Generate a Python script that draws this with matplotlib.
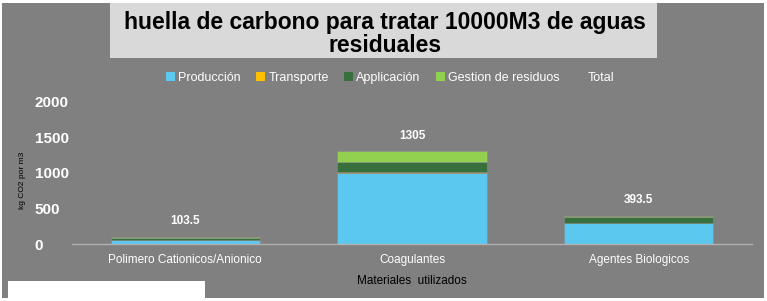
import numpy as np
import matplotlib.pyplot as plt
from matplotlib.patches import Rectangle, Patch

plt.rcParams['font.family'] = ['Liberation Sans', 'DejaVu Sans']

categories = ['Polimero Cationicos/Anionico', 'Coagulantes', 'Agentes Biologicos']
produccion = [50, 1000, 300]
transporte = [3.5, 20, 0]
aplicacion = [30, 130, 85]
gestion = [20, 155, 8.5]
totals = ['103.5', '1305', '393.5']

series = [('Producción', produccion, '#5bc8f0'),
          ('Transporte', transporte, '#ffc000'),
          ('Applicación', aplicacion, '#38703d'),
          ('Gestion de residuos', gestion, '#92d050')]

fig = plt.figure(figsize=(7.67, 3.01), dpi=100)
fig.patch.set_facecolor('white')

# gray chart area, title box and the white patch bottom-left
fig.add_artist(Rectangle((2 / 767, 3 / 301), 762 / 767, 295 / 301, transform=fig.transFigure,
                         facecolor='#808080', edgecolor='none', zorder=0))
fig.add_artist(Rectangle((110 / 767, 1 - 58 / 301), 547 / 767, 55 / 301, transform=fig.transFigure,
                         facecolor='#d9d9d9', edgecolor='none', zorder=1))
fig.add_artist(Rectangle((8 / 767, 0), 197 / 767, 20 / 301, transform=fig.transFigure,
                         facecolor='white', edgecolor='none', zorder=1))

fig.text(385 / 767, 1 - 34 / 301, 'huella de carbono para tratar 10000M3 de aguas\nresiduales',
         ha='center', va='center', fontsize=16.5, fontweight='bold', color='black',
         linespacing=1.02, zorder=2)

ax = fig.add_axes([72 / 767, 57 / 301, 680 / 767, 142 / 301])
ax.set_facecolor('none')
x = np.arange(len(categories))
bottom = np.zeros(len(categories))
for name, vals, col in series:
    ax.bar(x, vals, 0.66, bottom=bottom, color=col, edgecolor='#8a8a8a', linewidth=0.4, label=name)
    bottom += np.array(vals)

for xi, tot, lab in zip(x, bottom, totals):
    ax.annotate(lab, (xi, tot), xytext=(0, 7), textcoords='offset points',
                ha='center', va='bottom', fontsize=8.5, fontweight='bold', color='white')

ax.set_xlim(-0.5, 2.5)
ax.set_ylim(0, 2000)
ax.set_yticks([0, 500, 1000, 1500, 2000])
ax.set_xticks(x)
ax.set_xticklabels(categories, fontsize=8.5, color='white')
ax.tick_params(axis='y', labelsize=11, labelcolor='white', length=0, pad=27)
ax.tick_params(axis='x', length=0, pad=7)
for lbl in ax.get_yticklabels():
    lbl.set_fontweight('bold')
    lbl.set_horizontalalignment('left')
for s in ['top', 'right', 'left']:
    ax.spines[s].set_visible(False)
ax.spines['bottom'].set_color('#b0b0b0')
ax.spines['bottom'].set_linewidth(1)

ax.set_ylabel('kg CO2 por m3', fontsize=6, color='black')
ax.yaxis.set_label_coords(-0.068, 0.45)
ax.set_xlabel('Materiales  utilizados', fontsize=8.5, color='black', labelpad=7)

handles = [Patch(facecolor=c, edgecolor='none') for _, _, c in series]
handles.append(Patch(facecolor='none', edgecolor='none'))
labels = [n for n, _, _ in series] + ['Total']
leg = fig.legend(handles, labels, loc='center', bbox_to_anchor=(390 / 767, 1 - 78 / 301),
                 ncol=5, frameon=False, fontsize=9, handlelength=0.7, handleheight=0.8,
                 handletextpad=0.3, columnspacing=1.2)
for t in leg.get_texts():
    t.set_color('white')

fig.savefig('out.png', dpi=100, facecolor='white')
